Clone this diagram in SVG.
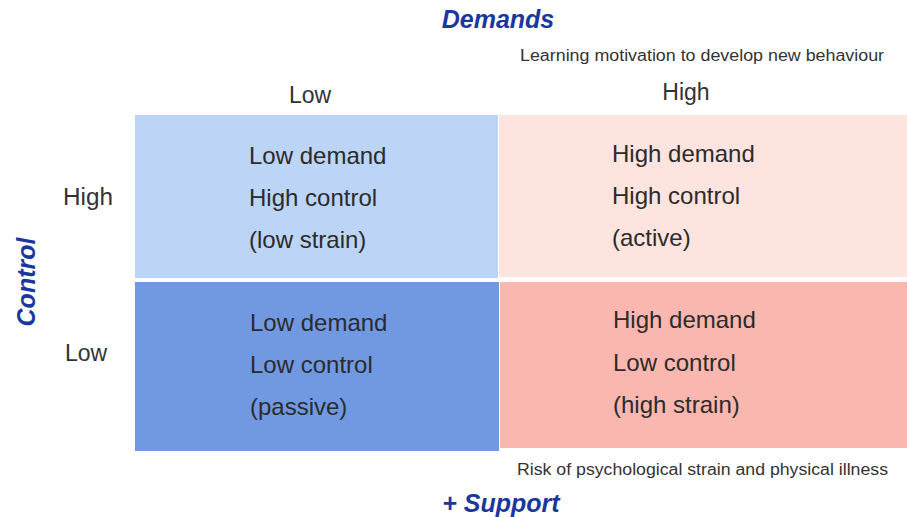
<svg xmlns="http://www.w3.org/2000/svg" width="907" height="517" viewBox="0 0 907 517">
<style>
.t{font-family:"Liberation Sans",Arial,sans-serif;fill:#2b2b2b;font-size:24px}
.h{font-family:"Liberation Sans",Arial,sans-serif;fill:#333;font-size:23px}
.n{font-family:"Liberation Sans",Arial,sans-serif;fill:#333;font-size:16px}
.b{font-family:"Liberation Sans",Arial,sans-serif;fill:#1a379e;font-size:25px;font-weight:bold;font-style:italic}
</style>
<rect width="907" height="517" fill="#ffffff"/>
<g id="axis-labels">
<text class="b" x="498" y="28" text-anchor="middle">Demands</text>
<text class="n" x="520" y="61" textLength="364" lengthAdjust="spacingAndGlyphs">Learning motivation to develop new behaviour</text>
<text class="h" x="310" y="103" text-anchor="middle">Low</text>
<text class="h" x="686" y="100" text-anchor="middle">High</text>
<text class="h" x="88" y="205" text-anchor="middle" textLength="50" lengthAdjust="spacingAndGlyphs">High</text>
<text class="h" x="86" y="361" text-anchor="middle">Low</text>
<text class="b" transform="translate(35,282) rotate(-90)" text-anchor="middle">Control</text>
<text class="n" x="517" y="475" textLength="371" lengthAdjust="spacingAndGlyphs">Risk of psychological strain and physical illness</text>
<text class="b" x="501" y="512" text-anchor="middle">+ Support</text>
</g>
<g id="cell-low-demand-high-control">
<rect x="135" y="115" width="363" height="163" fill="#bcd4f6"/>
<text class="t" x="249" y="164">Low demand</text>
<text class="t" x="249" y="206">High control</text>
<text class="t" x="249" y="248">(low strain)</text>
</g>
<g id="cell-high-demand-high-control">
<rect x="499" y="115" width="408" height="162" fill="#fde4df"/>
<text class="t" x="612" y="162">High demand</text>
<text class="t" x="612" y="204">High control</text>
<text class="t" x="612" y="246">(active)</text>
</g>
<g id="cell-low-demand-low-control">
<rect x="135" y="282" width="364" height="169" fill="#7199e2"/>
<text class="t" x="250" y="331">Low demand</text>
<text class="t" x="250" y="373">Low control</text>
<text class="t" x="250" y="415">(passive)</text>
</g>
<g id="cell-high-demand-low-control">
<rect x="500" y="282" width="407" height="166" fill="#f9b7af"/>
<text class="t" x="613" y="328">High demand</text>
<text class="t" x="613" y="371">Low control</text>
<text class="t" x="613" y="413">(high strain)</text>
</g>
</svg>
